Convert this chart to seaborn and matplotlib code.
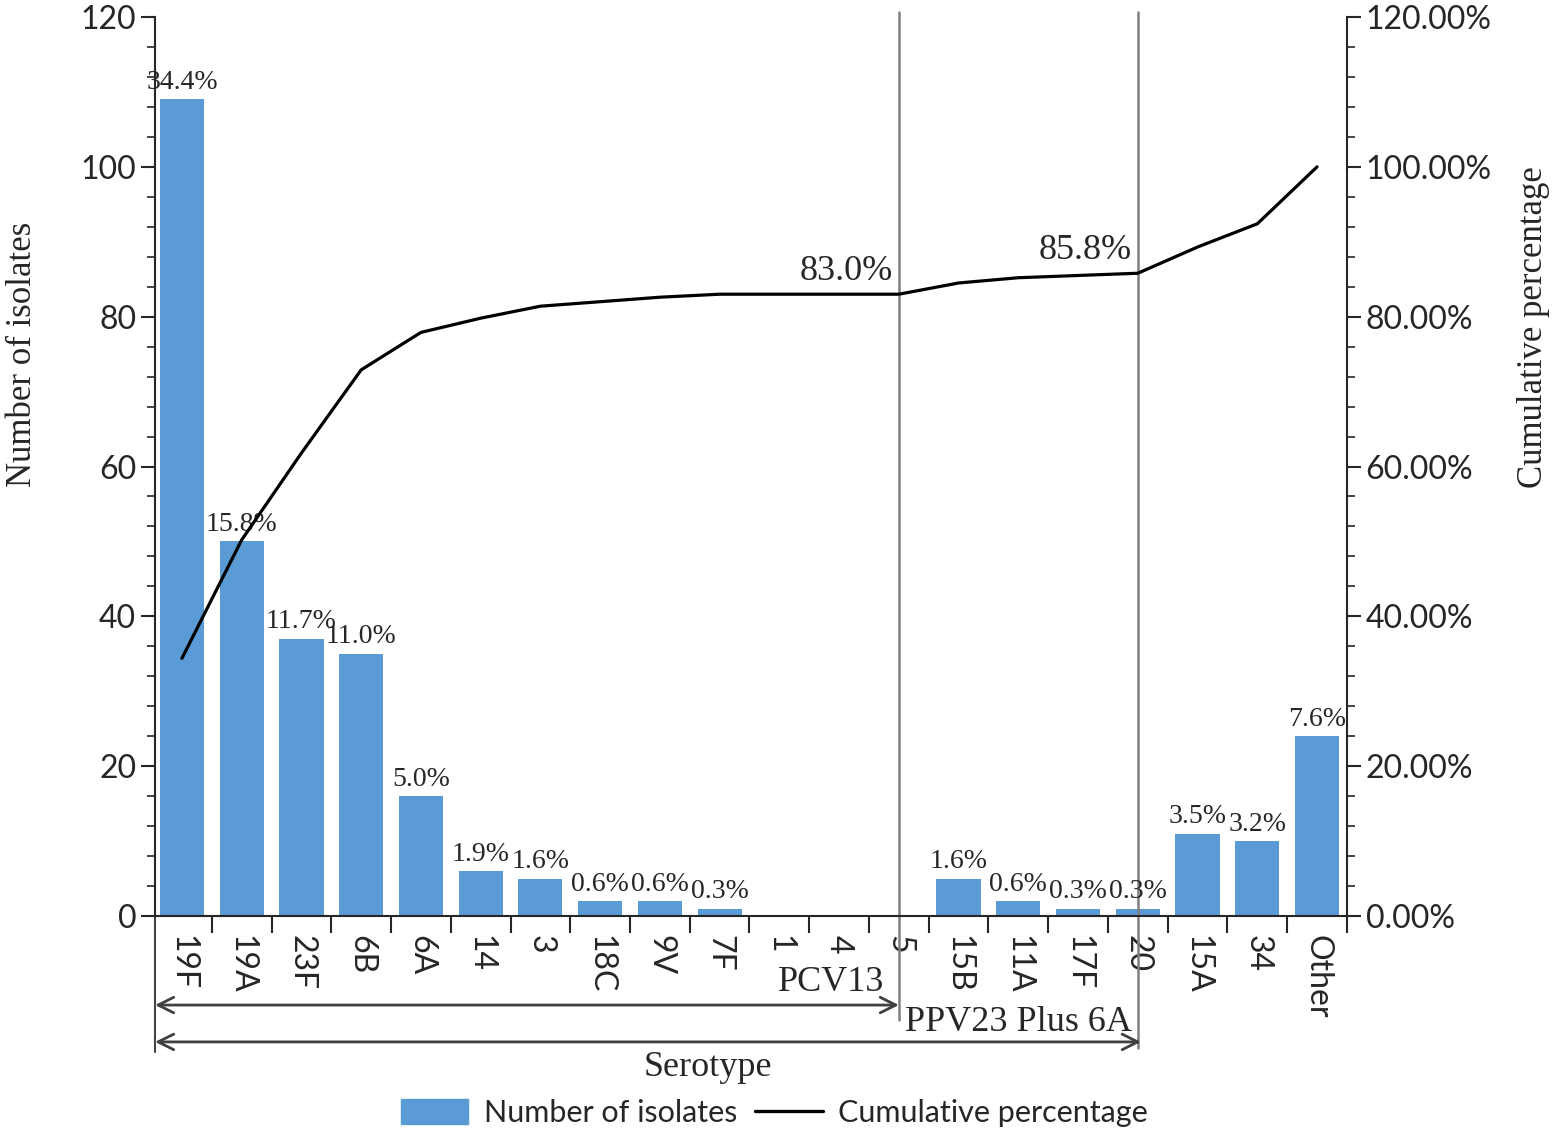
import matplotlib
matplotlib.use("Agg")
import matplotlib.pyplot as plt
import matplotlib.ticker as mticker
import numpy as np
import pandas as pd
import seaborn as sns

serotypes = ["19F", "19A", "23F", "6B", "6A", "14", "3", "18C", "9V", "7F",
             "1", "4", "5", "15B", "11A", "17F", "20", "15A", "34", "Other"]
isolates = [109, 50, 37, 35, 16, 6, 5, 2, 2, 1,
            0, 0, 0, 5, 2, 1, 1, 11, 10, 24]
bar_labels = ["34.4%", "15.8%", "11.7%", "11.0%", "5.0%", "1.9%", "1.6%", "0.6%", "0.6%", "0.3%",
              "", "", "", "1.6%", "0.6%", "0.3%", "0.3%", "3.5%", "3.2%", "7.6%"]
cumulative = [0.344, 0.502, 0.618, 0.729, 0.779, 0.798, 0.814, 0.820, 0.826, 0.830,
              0.830, 0.830, 0.830, 0.845, 0.852, 0.855, 0.858, 0.893, 0.924, 1.000]

df = pd.DataFrame({"serotype": serotypes, "isolates": isolates})

sns.set_style("ticks")
serif = ["Liberation Serif", "DejaVu Serif"]
sans = ["Lato", "DejaVu Sans"]
plt.rcParams["font.family"] = sans

bar_color = "#5B9BD5"

fig = plt.figure(figsize=(15.55, 11.34), dpi=100)
ax = fig.add_axes([0.0997, 0.1922, 0.7665, 0.7928])

sns.barplot(data=df, x="serotype", y="isolates", color=bar_color, saturation=1,
            width=0.74, ax=ax, linewidth=0)
ax.set_xlim(-0.45, 19.5)
ax.set_ylim(0, 120)
ax.yaxis.set_major_locator(mticker.MultipleLocator(20))
ax.yaxis.set_minor_locator(mticker.MultipleLocator(4))

for i, lab in enumerate(bar_labels):
    if lab:
        ax.text(i, isolates[i] + 0.6, lab, ha="center", va="bottom",
                fontsize=20, family=serif)

ax2 = ax.twinx()
sns.lineplot(x=np.arange(len(serotypes)), y=cumulative, color="black", linewidth=2.3, ax=ax2)
ax2.set_ylim(0, 1.2)
ax2.yaxis.set_major_locator(mticker.MultipleLocator(0.2))
ax2.yaxis.set_minor_locator(mticker.MultipleLocator(0.04))
ax2.yaxis.set_major_formatter(mticker.FuncFormatter(lambda v, p: f"{v * 100:.2f}%"))
ax2.set_xlim(-0.45, 19.5)

for idx in (12, 16):
    ax2.text(idx - 0.1, cumulative[idx] + 0.008, f"{cumulative[idx] * 100:.1f}%",
             ha="right", va="bottom", fontsize=26, family=serif)

# spines and ticks
for a in (ax, ax2):
    a.spines["top"].set_visible(False)
    for s in a.spines.values():
        s.set_linewidth(1.5)
ax.spines["right"].set_visible(False)
ax2.spines["left"].set_visible(False)
ax2.spines["bottom"].set_visible(False)

ax.tick_params(axis="y", which="major", length=10, width=1.5, labelsize=23, direction="out")
ax.tick_params(axis="y", which="minor", length=6, width=1.2, direction="out")
ax2.tick_params(axis="y", which="major", length=10, width=1.5, labelsize=23, direction="out")
ax2.tick_params(axis="y", which="minor", length=6, width=1.2, direction="out")

ax.set_xticks(range(len(serotypes)))
ax.set_xticklabels(serotypes, rotation=270, fontsize=23)
ax.set_xticks(np.arange(0.5, len(serotypes), 1), minor=True)
ax.tick_params(axis="x", which="major", length=0, pad=14)
ax.tick_params(axis="x", which="minor", length=12, width=1.5, direction="out")

ax.set_xlabel("")
ax.set_ylabel("Number of isolates", fontsize=25, family=serif)
ax.yaxis.set_label_coords(-0.097, 0.625)
ax2.set_ylabel("Cumulative percentage", fontsize=25, family=serif)
ax2.yaxis.set_label_coords(1.143, 0.655)

# group brackets
trans = ax.get_xaxis_transform()
gray = "#7f7f7f"
ax.plot([12, 12], [1.006, -0.116], color=gray, lw=1.8, transform=trans, clip_on=False)
ax.plot([16, 16], [1.006, -0.147], color=gray, lw=1.8, transform=trans, clip_on=False)
ax.plot([-0.45, -0.45], [0, -0.151], color="#444444", lw=1.5, transform=trans, clip_on=False)

arrow = dict(arrowstyle="<->", color="#404040", lw=2, mutation_scale=28, shrinkA=0, shrinkB=0)
ax.annotate("", xy=(-0.45, -0.099), xytext=(12, -0.099), xycoords=trans,
            textcoords=trans, arrowprops=arrow, annotation_clip=False)
ax.annotate("", xy=(-0.45, -0.140), xytext=(16.05, -0.140), xycoords=trans,
            textcoords=trans, arrowprops=arrow, annotation_clip=False)

ax.text(11.75, -0.074, "PCV13", transform=trans, ha="right", va="center",
        fontsize=26, family=serif)
ax.text(14.0, -0.118, "PPV23 Plus 6A", transform=trans, ha="center", va="center",
        fontsize=26, family=serif)
ax.text(8.8, -0.168, "Serotype", transform=trans, ha="center", va="center",
        fontsize=26, family=serif)

# legend
handles = [plt.Rectangle((0, 0), 1, 1, color=bar_color),
           plt.Line2D([0], [0], color="black", lw=2.4)]
fig.legend(handles, ["Number of isolates", "Cumulative percentage"], loc="center",
           bbox_to_anchor=(0.498, 0.0185), ncol=2, frameon=False, fontsize=22,
           handlelength=2.2, handleheight=0.9, columnspacing=0.6, handletextpad=0.5)

fig.savefig("out.png", dpi=100)
